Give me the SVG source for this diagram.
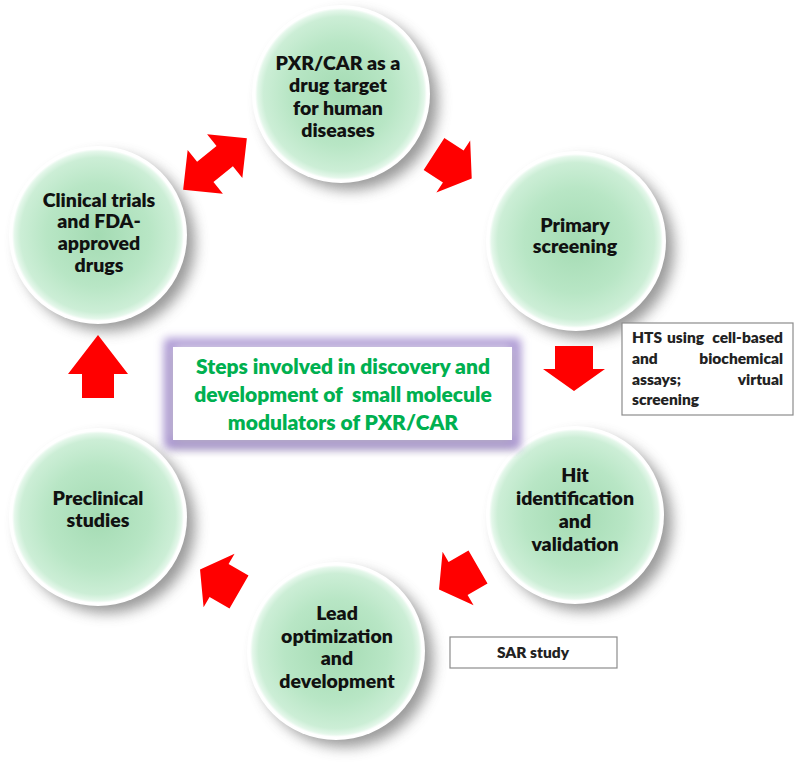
<svg xmlns="http://www.w3.org/2000/svg" width="800" height="772" viewBox="0 0 800 772">
<defs>
<radialGradient id="g" cx="0.5" cy="0.5" r="0.5">
<stop offset="0" stop-color="#A4DBB3"/>
<stop offset="0.6" stop-color="#B8E6C5"/>
<stop offset="0.9" stop-color="#CCEED6"/>
<stop offset="0.97" stop-color="#E4F7EA"/>
<stop offset="1" stop-color="#FFFFFF"/>
</radialGradient>
<filter id="sh" x="-30%" y="-30%" width="160%" height="160%">
<feGaussianBlur stdDeviation="7"/>
</filter>
<filter id="glow" x="-20%" y="-40%" width="140%" height="180%">
<feGaussianBlur stdDeviation="5"/>
</filter>
</defs>
<style>
.sh{fill:#808080;opacity:0.8;filter:url(#sh)}
.rim{fill:#ffffff}
.ball{fill:url(#g)}
.t{font-family:Lato,"Open Sans",sans-serif;font-weight:800;font-size:19.5px;fill:#111;text-anchor:middle}
.ttl{font-family:Lato,"Open Sans",sans-serif;font-weight:800;font-size:21px;fill:#00B050;text-anchor:middle;white-space:pre}
.note{font-family:Lato,"Open Sans",sans-serif;font-weight:800;font-size:15.5px;fill:#222}
.box{fill:#fff;stroke:#8c8c8c;stroke-width:1.2}
.arr{fill:#FF0000}
</style>
<rect width="800" height="772" fill="#fff"/>

<g id="node-pxr">
<circle class="sh" cx="350" cy="102" r="88"/>
<circle class="rim" cx="341" cy="94" r="89"/>
<circle class="ball" cx="341" cy="94" r="86"/>
<text class="t" x="338" y="70">PXR/CAR as a</text>
<text class="t" x="338" y="92">drug target</text>
<text class="t" x="338" y="115">for human</text>
<text class="t" x="338" y="137">diseases</text>
</g>

<g id="node-primary">
<circle class="sh" cx="585" cy="249" r="89"/>
<circle class="rim" cx="576" cy="241" r="90"/>
<circle class="ball" cx="576" cy="241" r="87"/>
<text class="t" x="575" y="232">Primary</text>
<text class="t" x="575" y="253">screening</text>
</g>

<g id="node-hit">
<circle class="sh" cx="584" cy="523" r="88"/>
<circle class="rim" cx="575" cy="515" r="89"/>
<circle class="ball" cx="575" cy="515" r="86"/>
<text class="t" x="575" y="482">Hit</text>
<text class="t" x="575" y="505">identification</text>
<text class="t" x="575" y="528">and</text>
<text class="t" x="575" y="551">validation</text>
</g>

<g id="node-lead">
<circle class="sh" cx="345" cy="659" r="88"/>
<circle class="rim" cx="336" cy="651" r="89"/>
<circle class="ball" cx="336" cy="651" r="86"/>
<text class="t" x="337" y="620">Lead</text>
<text class="t" x="337" y="643">optimization</text>
<text class="t" x="337" y="665">and</text>
<text class="t" x="337" y="688">development</text>
</g>

<g id="node-preclinical">
<circle class="sh" cx="107" cy="525" r="88"/>
<circle class="rim" cx="98" cy="517" r="89"/>
<circle class="ball" cx="98" cy="517" r="86"/>
<text class="t" x="98" y="505">Preclinical</text>
<text class="t" x="98" y="527">studies</text>
</g>

<g id="node-clinical">
<circle class="sh" cx="107" cy="243" r="88"/>
<circle class="rim" cx="98" cy="235" r="89"/>
<circle class="ball" cx="98" cy="235" r="86"/>
<text class="t" x="99" y="207">Clinical trials</text>
<text class="t" x="99" y="228">and FDA-</text>
<text class="t" x="99" y="250">approved</text>
<text class="t" x="99" y="272">drugs</text>
</g>

<g id="node-title">
<rect x="170" y="350" width="345" height="98" fill="#8f8f8f" opacity="0.6" filter="url(#glow)"/>
<rect x="169" y="343" width="347" height="101" fill="none" stroke="#A58FD0" stroke-width="9" filter="url(#glow)"/>
<rect x="173" y="347" width="339" height="93" fill="#fff"/>
<text class="ttl" x="343" y="374">Steps involved in discovery and</text>
<text class="ttl" x="343" y="402">development of  small molecule</text>
<text class="ttl" x="343" y="430">modulators of PXR/CAR</text>
</g>

<g id="note-hts">
<rect class="box" x="622" y="323" width="171" height="92"/>
<text class="note" y="343"><tspan x="632">HTS</tspan><tspan x="667">using</tspan><tspan x="783" text-anchor="end">cell-based</tspan></text>
<text class="note" y="364"><tspan x="632">and</tspan><tspan x="783" text-anchor="end">biochemical</tspan></text>
<text class="note" y="385"><tspan x="632">assays;</tspan><tspan x="783" text-anchor="end">virtual</tspan></text>
<text class="note" x="632" y="405">screening</text>
</g>

<g id="note-sar">
<rect class="box" x="450" y="637" width="167" height="31"/>
<text class="note" x="533" y="658" text-anchor="middle" font-size="16">SAR study</text>
</g>

<g id="connectors">
<path class="arr" transform="translate(215,164) rotate(-39)" d="M-41,0 L-12.5,-28 L-12.5,-13 L12.5,-13 L12.5,-28 L41,0 L12.5,28 L12.5,13 L-12.5,13 L-12.5,28 Z"/>
<path class="arr" transform="translate(434,154) rotate(33)" d="M0,-19 L23,-19 L23,-31 L45,0 L23,31 L23,19 L0,19 Z"/>
<path class="arr" transform="translate(574,346) rotate(90)" d="M0,-19 L23,-19 L23,-31 L45,0 L23,31 L23,19 L0,19 Z"/>
<path class="arr" transform="translate(478,567) rotate(150)" d="M0,-19 L23,-19 L23,-31 L45,0 L23,31 L23,19 L0,19 Z"/>
<path class="arr" transform="translate(239,592) rotate(210)" d="M0,-19 L23,-19 L23,-31 L45,0 L23,31 L23,19 L0,19 Z"/>
<path class="arr" transform="translate(98,398) rotate(-90)" d="M0,-16 L24,-16 L24,-30 L63,0 L24,30 L24,16 L0,16 Z"/>
</g>
</svg>
